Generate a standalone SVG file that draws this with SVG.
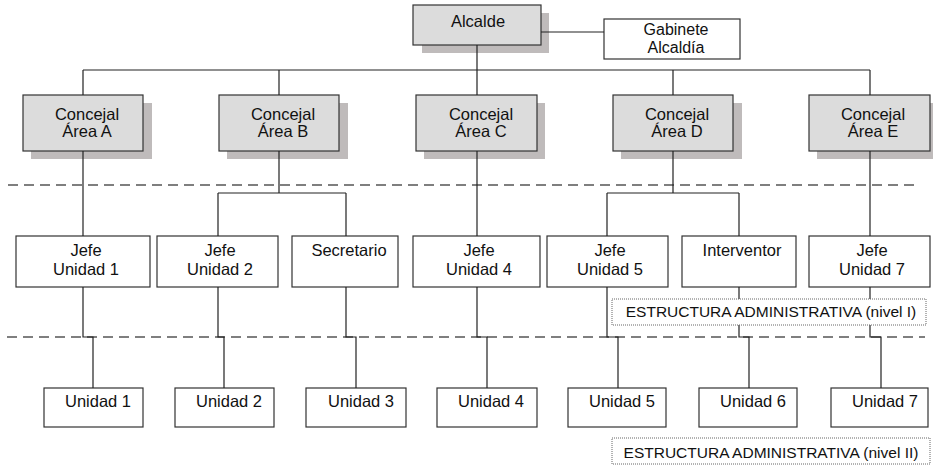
<svg xmlns="http://www.w3.org/2000/svg" width="933" height="465" viewBox="0 0 933 465">
  <style>
    text { font-family: "Liberation Sans", Arial, sans-serif; font-size: 16.5px; fill: #111; text-anchor: middle; }
    .shadow { fill: #bfbbbb; }
    .grey { fill: #dcdcdc; stroke: #333; stroke-width: 1.2; }
    .plain { fill: #fff; stroke: #333; stroke-width: 1.2; }
    .conn { fill: none; stroke: #222; stroke-width: 1.2; }
    .level { fill: none; stroke: #555; stroke-width: 1.5; stroke-dasharray: 10 6; }
    .tag { fill: #fff; stroke: #666; stroke-width: 1; stroke-dasharray: 1 1; }
    .tag-text { font-size: 15.5px; }
    .small { font-size: 16px; }
  </style>

  <!-- level separators -->
  <g id="levels">
    <line class="level" x1="8" y1="185" x2="918" y2="185"/>
    <line class="level" x1="7" y1="337" x2="925" y2="337"/>
  </g>

  <!-- shaded political nodes -->
  <g id="alcalde">
    <rect class="shadow" x="422" y="13" width="127" height="40"/>
    <rect class="grey" x="413" y="5" width="128" height="40"/>
    <text x="478" y="27">Alcalde</text>
  </g>
  <g id="gabinete">
    <rect class="plain" x="604" y="19" width="136" height="40"/>
    <text class="small" x="676" y="35">Gabinete</text>
    <text class="small" x="676" y="53">Alcaldía</text>
  </g>

  <g id="concejal-a">
    <rect class="shadow" x="31" y="103" width="121" height="56"/>
    <rect class="grey" x="23" y="95" width="120" height="56"/>
    <text x="87" y="120">Concejal</text>
    <text x="87" y="137">Área A</text>
  </g>
  <g id="concejal-b">
    <rect class="shadow" x="227" y="103" width="121" height="56"/>
    <rect class="grey" x="219" y="95" width="120" height="56"/>
    <text x="283" y="120">Concejal</text>
    <text x="283" y="137">Área B</text>
  </g>
  <g id="concejal-c">
    <rect class="shadow" x="424" y="103" width="121" height="56"/>
    <rect class="grey" x="416" y="95" width="121" height="56"/>
    <text x="481" y="120">Concejal</text>
    <text x="481" y="137">Área C</text>
  </g>
  <g id="concejal-d">
    <rect class="shadow" x="621" y="103" width="121" height="56"/>
    <rect class="grey" x="613" y="95" width="120" height="56"/>
    <text x="677" y="120">Concejal</text>
    <text x="677" y="137">Área D</text>
  </g>
  <g id="concejal-e">
    <rect class="shadow" x="817" y="103" width="121" height="56"/>
    <rect class="grey" x="809" y="95" width="121" height="56"/>
    <text x="873" y="120">Concejal</text>
    <text x="873" y="137">Área E</text>
  </g>

  <!-- heads of unit -->
  <g id="jefe-1">
    <rect class="plain" x="16" y="236" width="134" height="51"/>
    <text x="86" y="256">Jefe</text>
    <text x="86" y="275">Unidad 1</text>
  </g>
  <g id="jefe-2">
    <rect class="plain" x="157" y="236" width="121" height="51"/>
    <text x="220" y="256">Jefe</text>
    <text x="220" y="275">Unidad 2</text>
  </g>
  <g id="secretario">
    <rect class="plain" x="292" y="236" width="106" height="51"/>
    <text x="349" y="256">Secretario</text>
  </g>
  <g id="jefe-4">
    <rect class="plain" x="413" y="236" width="127" height="51"/>
    <text x="479" y="256">Jefe</text>
    <text x="479" y="275">Unidad 4</text>
  </g>
  <g id="jefe-5">
    <rect class="plain" x="547" y="236" width="121" height="51"/>
    <text x="610" y="256">Jefe</text>
    <text x="610" y="275">Unidad 5</text>
  </g>
  <g id="interventor">
    <rect class="plain" x="682" y="236" width="114" height="51"/>
    <text x="742" y="256">Interventor</text>
  </g>
  <g id="jefe-7">
    <rect class="plain" x="809" y="236" width="121" height="51"/>
    <text x="872" y="256">Jefe</text>
    <text x="872" y="275">Unidad 7</text>
  </g>

  <!-- units -->
  <g id="unidad-1">
    <rect class="plain" x="44" y="388" width="99" height="39"/>
    <text x="98" y="407">Unidad 1</text>
  </g>
  <g id="unidad-2">
    <rect class="plain" x="175" y="388" width="99" height="39"/>
    <text x="229" y="407">Unidad 2</text>
  </g>
  <g id="unidad-3">
    <rect class="plain" x="306" y="388" width="100" height="39"/>
    <text x="361" y="407">Unidad 3</text>
  </g>
  <g id="unidad-4">
    <rect class="plain" x="437" y="388" width="100" height="39"/>
    <text x="491" y="407">Unidad 4</text>
  </g>
  <g id="unidad-5">
    <rect class="plain" x="568" y="388" width="98" height="39"/>
    <text x="622" y="407">Unidad 5</text>
  </g>
  <g id="unidad-6">
    <rect class="plain" x="699" y="388" width="98" height="39"/>
    <text x="753" y="407">Unidad 6</text>
  </g>
  <g id="unidad-7">
    <rect class="plain" x="831" y="388" width="97" height="39"/>
    <text x="885" y="407">Unidad 7</text>
  </g>

  <!-- connectors -->
  <g id="connectors">
    <path class="conn" d="M477 45 V70 M541 32 H604"/>
    <path class="conn" d="M83 70 H870 M83 70 V95 M279 70 V95 M477 70 V95 M673 70 V95 M870 70 V95"/>
    <path class="conn" d="M83 151 V236"/>
    <path class="conn" d="M279 151 V193 M218 193 H346 M218 193 V236 M346 193 V236"/>
    <path class="conn" d="M477 151 V236"/>
    <path class="conn" d="M673 151 V193 M607 193 H739 M607 193 V236 M739 193 V236"/>
    <path class="conn" d="M870 151 V236"/>
    <path class="conn" d="M83 287 V337 H93 V388"/>
    <path class="conn" d="M218 287 V337 H224 V388"/>
    <path class="conn" d="M346 287 V337 H356 V388"/>
    <path class="conn" d="M477 287 V337 H487 V388"/>
    <path class="conn" d="M607 287 V337 H618 V388"/>
    <path class="conn" d="M739 287 V337 H749 V388"/>
    <path class="conn" d="M870 287 V337 H881 V388"/>
  </g>

  <!-- level tags -->
  <g id="nivel-1">
    <rect class="tag" x="612" y="299" width="314" height="26"/>
    <text class="tag-text" x="771" y="317">ESTRUCTURA ADMINISTRATIVA (nivel I)</text>
  </g>
  <g id="nivel-2">
    <rect class="tag" x="612" y="438" width="318" height="26"/>
    <text class="tag-text" x="771" y="458">ESTRUCTURA ADMINISTRATIVA (nivel II)</text>
  </g>
</svg>
